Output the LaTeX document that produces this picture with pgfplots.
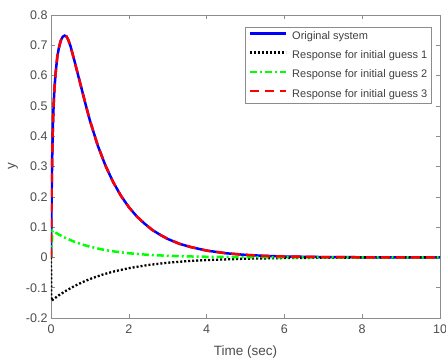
\documentclass[border=0pt]{standalone}
\usepackage{fontspec}
\setmainfont{Liberation Sans}
\usepackage{pgfplots}
\pgfplotsset{compat=1.18}
\begin{document}
\begin{tikzpicture}[x=1pt,y=1pt]
\path[use as bounding box] (-51,-42) rectangle (395,318);
\begin{axis}[
  at={(0,0)}, anchor=south west,
  scale only axis, width=389pt, height=303pt,
  xmin=0, xmax=10, ymin=-0.2, ymax=0.8,
  xtick={0,2,4,6,8,10},
  xticklabels={0,2,4,6,8,10},
  ytick={-0.2,-0.1,0,0.1,0.2,0.3,0.4,0.5,0.6,0.7,0.8},
  yticklabels={-0.2,-0.1,0,0.1,0.2,0.3,0.4,0.5,0.6,0.7,0.8},
  tick align=inside, major tick length=4pt,
  axis line style={black!45, line width=0.6pt},
  every tick/.style={black!45, line width=0.6pt},
  tick label style={font=\fontsize{12.5}{14}\selectfont, text=black!70},
  xticklabel style={yshift=-3pt},
  xlabel={Time (sec)}, ylabel={y},
  label style={font=\fontsize{13.5}{15}\selectfont, text=black!70},
  xlabel style={at={(axis description cs:0.5,-0.112)}, anchor=center},
  ylabel style={at={(axis description cs:-0.0977,0.5)}, anchor=center},
  legend style={at={(axis description cs:0.977,0.960)}, anchor=north east,
    font=\fontsize{11}{13}\selectfont, draw=black!45, text=black!75,
    nodes={inner sep=0pt, text height=8.5pt, text depth=2.5pt},
    row sep=8.3pt, column sep=0pt, inner xsep=3.5pt, inner ysep=3.5pt},
  legend cell align=left,
  legend image code/.code={\draw[#1] (0pt,3pt) -- (36pt,3pt);},
]
\addplot[blue, line width=2.5pt] coordinates {
(0,0) (0.01,0.13) (0.02,0.24) (0.035,0.36) (0.05,0.44) (0.07,0.51) (0.09,0.56)
(0.12,0.61) (0.16,0.66) (0.20,0.69) (0.25,0.715) (0.30,0.728) (0.35,0.732)
(0.40,0.729) (0.45,0.716) (0.50,0.698) (0.60,0.650) (0.70,0.600) (0.80,0.550)
(0.90,0.500) (1.0,0.452) (1.2,0.370) (1.4,0.303) (1.6,0.248) (1.8,0.203)
(2.0,0.166) (2.2,0.136) (2.4,0.112) (2.6,0.091) (2.8,0.075) (3.0,0.061)
(3.3,0.045) (3.6,0.034) (4.0,0.0225) (4.5,0.0137) (5.0,0.0083) (5.5,0.005)
(6.0,0.003) (7.0,0.0011) (8.0,0.0004) (9.0,0.00015) (10,0.00005)};
\addlegendentry{\hspace{5pt}Original system}
\addplot[black, line width=2.3pt, dash pattern=on 2pt off 2pt] coordinates {
(0,0) (0.01,-0.143) (0.2,-0.125) (0.4,-0.109) (0.6,-0.0947) (0.8,-0.0822)
(1.0,-0.0715) (1.3,-0.0577) (1.6,-0.0469) (2.0,-0.0355) (2.5,-0.0250)
(3.0,-0.0176) (3.5,-0.0124) (4.0,-0.0087) (5.0,-0.0043) (6.0,-0.0021)
(7.0,-0.0011) (8.0,-0.0005) (10,-0.0001)};
\addlegendentry{\hspace{5pt}Response for initial guess 1}
\addplot[green, line width=2.5pt, dash pattern=on 7pt off 3pt on 2pt off 3pt] coordinates {
(0,0) (0.04,0.088) (0.2,0.0756) (0.4,0.0625) (0.6,0.0517) (0.8,0.0428)
(1.0,0.0354) (1.3,0.0266) (1.6,0.0200) (2.0,0.0137) (2.5,0.0085)
(3.0,0.0053) (3.5,0.0033) (4.0,0.0021) (5.0,0.0008) (6.0,0.0003)
(8.0,0.00005) (10,0)};
\addlegendentry{\hspace{5pt}Response for initial guess 2}
\addplot[red, line width=2.5pt, dash pattern=on 9pt off 6pt] coordinates {
(0,0) (0.01,0.13) (0.02,0.24) (0.035,0.36) (0.05,0.44) (0.07,0.51) (0.09,0.56)
(0.12,0.61) (0.16,0.66) (0.20,0.69) (0.25,0.715) (0.30,0.728) (0.35,0.732)
(0.40,0.729) (0.45,0.716) (0.50,0.698) (0.60,0.650) (0.70,0.600) (0.80,0.550)
(0.90,0.500) (1.0,0.452) (1.2,0.370) (1.4,0.303) (1.6,0.248) (1.8,0.203)
(2.0,0.166) (2.2,0.136) (2.4,0.112) (2.6,0.091) (2.8,0.075) (3.0,0.061)
(3.3,0.045) (3.6,0.034) (4.0,0.0225) (4.5,0.0137) (5.0,0.0083) (5.5,0.005)
(6.0,0.003) (7.0,0.0011) (8.0,0.0004) (9.0,0.00015) (10,0.00005)};
\addlegendentry{\hspace{5pt}Response for initial guess 3}
\end{axis}
\end{tikzpicture}
\end{document}
